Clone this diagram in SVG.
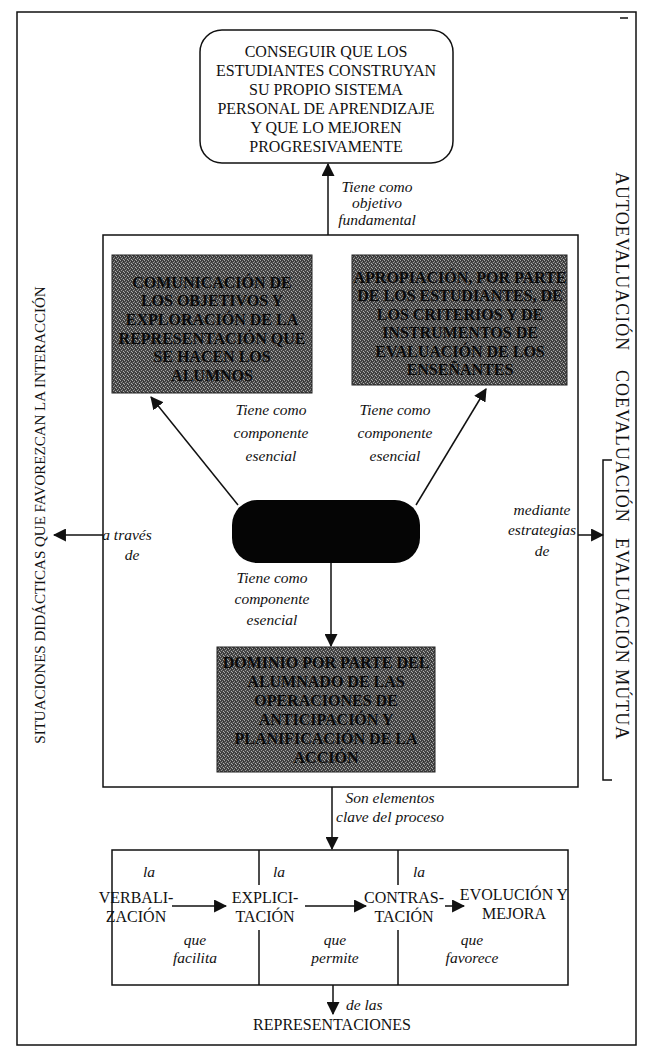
<svg xmlns="http://www.w3.org/2000/svg" width="650" height="1051" viewBox="0 0 650 1051">
  <style>
    .frame { fill: none; stroke: #111; stroke-width: 1.5; }
    .box { fill: #fff; stroke: #111; stroke-width: 1.5; }
    .open { fill: none; stroke: #111; stroke-width: 1.5; }
    .dark { fill: url(#screen); stroke: #222; stroke-width: 1; }
    .node-text { font-family: "Liberation Serif", "Times New Roman", serif; font-size: 16px; fill: #111; text-anchor: middle; }
    .dark-text { font-family: "Liberation Serif", "Times New Roman", serif; font-size: 16px; font-weight: bold; fill: #0a0a0a; text-anchor: middle; }
    .label { font-family: "Liberation Serif", "Times New Roman", serif; font-size: 15.5px; font-style: italic; fill: #111; text-anchor: middle; }
    .label-start { font-family: "Liberation Serif", "Times New Roman", serif; font-size: 15.5px; font-style: italic; fill: #111; text-anchor: start; }
    .side-left { font-family: "Liberation Serif", "Times New Roman", serif; font-size: 15px; fill: #111; text-anchor: middle; }
    .side-right { font-family: "Liberation Serif", "Times New Roman", serif; font-size: 18px; letter-spacing: 1px; fill: #111; text-anchor: start; }
    .line { fill: none; stroke: #111; stroke-width: 1.5; }
    .arrow { fill: none; stroke: #111; stroke-width: 1.5; marker-end: url(#head); }
  </style>
  <defs>
    <marker id="head" viewBox="0 0 12 12" refX="11" refY="6" markerWidth="13" markerHeight="13" markerUnits="userSpaceOnUse" orient="auto">
      <path d="M0,0 L12,6 L0,12 Z" fill="#111"/>
    </marker>
    <!-- halftone screen used for the shaded component boxes -->
    <pattern id="screen" width="4" height="4" patternUnits="userSpaceOnUse">
      <rect width="4" height="4" fill="#474747"/>
      <rect x="0" y="0" width="1" height="1" fill="#a8a8a8"/>
      <rect x="2" y="1" width="1" height="1" fill="#8c8c8c"/>
      <rect x="1" y="2" width="1" height="1" fill="#9a9a9a"/>
      <rect x="3" y="3" width="1" height="1" fill="#b0b0b0"/>
      <rect x="3" y="1" width="1" height="1" fill="#2e2e2e"/>
      <rect x="1" y="0" width="1" height="1" fill="#353535"/>
    </pattern>
  </defs>

  <rect width="650" height="1051" fill="#fff"/>

  <!-- page frame -->
  <rect class="frame" x="17" y="12" width="619" height="1033"/>
  <line class="line" x1="620" y1="18" x2="628" y2="18"/>

  <!-- goal -->
  <g id="goal">
    <rect class="box" x="200" y="30" width="253" height="133" rx="22"/>
    <text class="node-text" x="326" y="57">CONSEGUIR QUE LOS</text>
    <text class="node-text" x="326" y="76">ESTUDIANTES CONSTRUYAN</text>
    <text class="node-text" x="326" y="95">SU PROPIO SISTEMA</text>
    <text class="node-text" x="326" y="114">PERSONAL DE APRENDIZAJE</text>
    <text class="node-text" x="326" y="133">Y QUE LO MEJOREN</text>
    <text class="node-text" x="326" y="152">PROGRESIVAMENTE</text>
  </g>

  <!-- container of the three components -->
  <g id="components">
    <rect class="box" x="103" y="235" width="475" height="552"/>
  </g>

  <g id="communication">
    <rect class="dark" x="112" y="255" width="200" height="138"/>
    <text class="dark-text" x="212" y="288">COMUNICACIÓN DE</text>
    <text class="dark-text" x="212" y="306">LOS OBJETIVOS Y</text>
    <text class="dark-text" x="212" y="325">EXPLORACIÓN DE LA</text>
    <text class="dark-text" x="212" y="344">REPRESENTACIÓN QUE</text>
    <text class="dark-text" x="212" y="362">SE HACEN LOS</text>
    <text class="dark-text" x="212" y="381">ALUMNOS</text>
  </g>

  <g id="appropriation">
    <rect class="dark" x="352" y="255" width="215" height="130"/>
    <text class="dark-text" x="460" y="283">APROPIACIÓN, POR PARTE</text>
    <text class="dark-text" x="460" y="301">DE LOS ESTUDIANTES, DE</text>
    <text class="dark-text" x="460" y="320">LOS CRITERIOS Y DE</text>
    <text class="dark-text" x="460" y="338">INSTRUMENTOS DE</text>
    <text class="dark-text" x="460" y="357">EVALUACIÓN DE LOS</text>
    <text class="dark-text" x="460" y="375">ENSEÑANTES</text>
  </g>

  <g id="regulation">
    <rect x="232" y="500" width="188" height="63" rx="25" fill="#050505"/>
  </g>

  <g id="mastery">
    <rect class="dark" x="217" y="647" width="218" height="125"/>
    <text class="dark-text" x="326" y="668">DOMINIO POR PARTE DEL</text>
    <text class="dark-text" x="326" y="687">ALUMNADO DE LAS</text>
    <text class="dark-text" x="326" y="706">OPERACIONES DE</text>
    <text class="dark-text" x="326" y="725">ANTICIPACIÓN Y</text>
    <text class="dark-text" x="326" y="744">PLANIFICACIÓN DE LA</text>
    <text class="dark-text" x="326" y="763">ACCIÓN</text>
  </g>

  <g id="situations">
    <text class="side-left" transform="translate(45,515) rotate(-90)">SITUACIONES DIDÁCTICAS QUE FAVOREZCAN LA INTERACCIÓN</text>
  </g>

  <g id="assessment">
    <path class="open" d="M612,460 H603 V780 H612"/>
    <text class="side-right" transform="translate(616,172) rotate(90)"><tspan x="0">AUTOEVALUACIÓN</tspan><tspan x="198">COEVALUACIÓN</tspan><tspan x="366">EVALUACIÓN MÚTUA</tspan></text>
  </g>

  <!-- process row -->
  <g id="process">
    <rect class="open" x="112" y="850" width="456" height="135"/>
    <line class="line" x1="259" y1="850" x2="259" y2="885"/>
    <line class="line" x1="259" y1="930" x2="259" y2="985"/>
    <line class="line" x1="398" y1="850" x2="398" y2="885"/>
    <line class="line" x1="398" y1="930" x2="398" y2="985"/>
  </g>
  <g id="verbalization">
    <text class="node-text" x="136" y="903">VERBALI-</text>
    <text class="node-text" x="136" y="922">ZACIÓN</text>
  </g>
  <g id="explicitation">
    <text class="node-text" x="265" y="903">EXPLICI-</text>
    <text class="node-text" x="265" y="922">TACIÓN</text>
  </g>
  <g id="contrast">
    <text class="node-text" x="404" y="903">CONTRAS-</text>
    <text class="node-text" x="404" y="922">TACIÓN</text>
  </g>
  <g id="improvement">
    <text class="node-text" x="514" y="900">EVOLUCIÓN Y</text>
    <text class="node-text" x="514" y="919">MEJORA</text>
  </g>
  <g id="representations">
    <text class="node-text" x="332" y="1030">REPRESENTACIONES</text>
  </g>

  <!-- connectors and their labels -->
  <g id="connectors">
    <line class="arrow" x1="328" y1="235" x2="328" y2="164"/>
    <text class="label" x="377" y="192">Tiene como</text>
    <text class="label" x="377" y="208">objetivo</text>
    <text class="label" x="377" y="225">fundamental</text>

    <line class="arrow" x1="238" y1="505" x2="151" y2="397"/>
    <text class="label" x="271" y="415">Tiene como</text>
    <text class="label" x="271" y="438">componente</text>
    <text class="label" x="271" y="461">esencial</text>

    <line class="arrow" x1="416" y1="505" x2="486" y2="389"/>
    <text class="label" x="395" y="415">Tiene como</text>
    <text class="label" x="395" y="438">componente</text>
    <text class="label" x="395" y="461">esencial</text>

    <line class="arrow" x1="331" y1="563" x2="331" y2="646"/>
    <text class="label" x="272" y="583">Tiene como</text>
    <text class="label" x="272" y="604">componente</text>
    <text class="label" x="272" y="625">esencial</text>

    <line class="arrow" x1="103" y1="535" x2="54" y2="535"/>
    <text class="label" x="127" y="540">a través</text>
    <text class="label" x="132" y="560">de</text>

    <line class="arrow" x1="578" y1="535" x2="603" y2="535"/>
    <text class="label" x="542" y="515">mediante</text>
    <text class="label" x="542" y="535">estrategias</text>
    <text class="label" x="542" y="556">de</text>

    <line class="arrow" x1="332" y1="787" x2="332" y2="849"/>
    <text class="label" x="390" y="803">Son elementos</text>
    <text class="label" x="390" y="822">clave del proceso</text>

    <text class="label-start" x="143" y="877">la</text>
    <text class="label-start" x="273" y="877">la</text>
    <text class="label-start" x="413" y="877">la</text>

    <line class="arrow" x1="172" y1="906" x2="226" y2="906"/>
    <line class="arrow" x1="305" y1="906" x2="366" y2="906"/>
    <line class="arrow" x1="445" y1="906" x2="464" y2="906"/>

    <text class="label" x="195" y="945">que</text>
    <text class="label" x="195" y="963">facilita</text>
    <text class="label" x="335" y="945">que</text>
    <text class="label" x="335" y="963">permite</text>
    <text class="label" x="472" y="945">que</text>
    <text class="label" x="472" y="963">favorece</text>

    <line class="arrow" x1="333" y1="985" x2="333" y2="1014"/>
    <text class="label-start" x="346" y="1010">de las</text>
  </g>
</svg>
